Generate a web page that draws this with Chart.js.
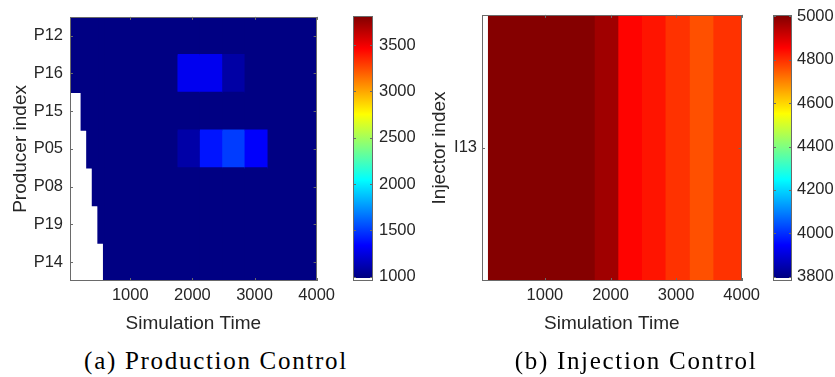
<!DOCTYPE html>
<html>
<head>
<meta charset="utf-8">
<script src="https://cdn.jsdelivr.net/npm/chart.js@4.4.1/dist/chart.umd.min.js"></script>
<style>
  body { margin: 0; background: #fff; width: 835px; height: 377px; position: relative; overflow: hidden; }
  canvas { position: absolute; top: 0; }
  .cap { position: absolute; top: 347px; font-family: "Liberation Serif", "Times New Roman", serif;
         font-size: 25px; letter-spacing: 1.7px; color: #000; white-space: nowrap; transform: translateX(-50%); }
</style>
</head>
<body>
<canvas id="prod" width="340" height="340" style="left:0px"></canvas>
<canvas id="prodBar" width="90" height="300" style="left:340px"></canvas>
<canvas id="inj" width="345" height="340" style="left:420px"></canvas>
<canvas id="injBar" width="70" height="300" style="left:765px"></canvas>
<div class="cap" style="left:216px">(a) Production Control</div>
<div class="cap" style="left:636px">(b) Injection Control</div>
<script>
// producer wells, top to bottom
const producers = ['P12', 'P16', 'P15', 'P05', 'P08', 'P19', 'P14'];
// time boundaries of the control steps
const prodEdges = [30, 120, 210, 300, 390, 480, 570, 1750, 2110, 2470, 2830, 3200, 3560, 4000];
// null = no control yet (white)
const P12 = [965, 965, 965, 965, 965, 965, 965, 965, 965, 965, 965, 965, 965];
const P16 = [965, 965, 965, 965, 965, 965, 965, 1270, 1270, 1060, 965, 965, 965];
const P15 = [null, null, 965, 965, 965, 965, 965, 965, 965, 965, 965, 965, 965];
const P05 = [null, null, null, 965, 965, 965, 965, 1065, 1369, 1481, 1304, 965, 965];
const P08 = [null, null, null, null, 965, 965, 965, 965, 965, 965, 965, 965, 965];
const P19 = [null, null, null, null, null, 965, 965, 965, 965, 965, 965, 965, 965];
const P14 = [null, null, null, null, null, null, 965, 965, 965, 965, 965, 965, 965];
const prodRows = [P12, P16, P15, P05, P08, P19, P14];
const prodRange = [955, 3815];
const prodBarTicks = [1000, 1500, 2000, 2500, 3000, 3500];

const injectors = ['I13'];
const injEdges = [40, 140, 1750, 2110, 2470, 2830, 3200, 3560, 4000];
const I13 = [null, 5000, 4968, 4850, 4829, 4793, 4757, 4793];
const injRows = [I13];
const injRange = [3780, 5007];
const injBarTicks = [3800, 4000, 4200, 4400, 4600, 4800, 5000];

const timeTicks = [1000, 2000, 3000, 4000];

const textColor = '#262626';
const sans = '"Liberation Sans", Arial, sans-serif';
const plain = v => String(v);

function jet(t) {
  t = Math.max(0, Math.min(1, t));
  const c = v => Math.round(255 * Math.max(0, Math.min(1, v)));
  return `rgb(${c(1.5 - Math.abs(4 * t - 3))},${c(1.5 - Math.abs(4 * t - 2))},${c(1.5 - Math.abs(4 * t - 1))})`;
}

function cellSets(edges, rows, range) {
  return edges.slice(0, -1).map((x0, j) => ({
    data: rows.map(r => r[j] == null ? null : [x0, edges[j + 1]]),
    backgroundColor: rows.map(r => r[j] == null ? 'rgba(0,0,0,0)' : jet((r[j] - range[0]) / (range[1] - range[0]))),
    borderWidth: 0,
    inflateAmount: 0.6,
    grouped: false,
    barPercentage: 1,
    categoryPercentage: 1
  }));
}

// box round the plot area with small inward ticks, like matlab
const framePlugin = {
  id: 'frame',
  afterDatasetsDraw(chart) {
    const { ctx, chartArea: a } = chart;
    ctx.save();
    ctx.strokeStyle = '#6a6a6a';
    ctx.lineWidth = 1;
    ctx.beginPath();
    const xs = chart.scales.x, ys = chart.scales.y;
    if (xs.options.display) {
      xs.ticks.forEach((t, i) => {
        const p = Math.round(xs.getPixelForTick(i)) + 0.5;
        ctx.moveTo(p, a.bottom); ctx.lineTo(p, a.bottom - 3);
        ctx.moveTo(p, a.top); ctx.lineTo(p, a.top + 3);
      });
    }
    ys.ticks.forEach((t, i) => {
      const p = Math.round(ys.getPixelForTick(i)) + 0.5;
      ctx.moveTo(a.left, p); ctx.lineTo(a.left + 3, p);
      ctx.moveTo(a.right, p); ctx.lineTo(a.right - 3, p);
    });
    ctx.stroke();
    ctx.strokeRect(Math.round(a.left) + 0.5, Math.round(a.top) + 0.5,
      Math.round(a.right - a.left) - 1, Math.round(a.bottom - a.top) - 1);
    ctx.restore();
  }
};

function heatmap(id, labels, edges, rows, range, yTitle, yWidth, rightPad, titlePad, tickPad) {
  return new Chart(document.getElementById(id), {
    type: 'bar',
    data: { labels: labels, datasets: cellSets(edges, rows, range) },
    options: {
      indexAxis: 'y',
      responsive: false,
      animation: false,
      layout: { padding: { top: 12, right: rightPad, left: 0, bottom: 0 } },
      plugins: { legend: { display: false }, tooltip: { enabled: false } },
      scales: {
        x: {
          type: 'linear', min: edges[0], max: edges[edges.length - 1],
          grid: { display: false, drawTicks: false }, border: { display: false },
          afterBuildTicks: s => { s.ticks = timeTicks.map(v => ({ value: v })); },
          ticks: { font: { family: sans, size: 16.5 }, color: textColor, padding: 5, maxRotation: 0, callback: plain },
          title: { display: true, text: 'Simulation Time', color: textColor,
                   font: { family: sans, size: 19 }, padding: { top: 0, bottom: 5 } },
          afterFit: s => { s.height = 59; }
        },
        y: {
          grid: { display: false, drawTicks: false }, border: { display: false },
          ticks: { font: { family: sans, size: 16.5 }, color: textColor, padding: tickPad },
          title: { display: true, text: yTitle, color: textColor,
                   font: { family: sans, size: 19 }, padding: { top: titlePad, bottom: 0 } },
          afterFit: s => { s.width = yWidth; }
        }
      }
    },
    plugins: [framePlugin]
  });
}

function colorbar(id, range, ticks, leftPad, axisWidth, tickPad) {
  return new Chart(document.getElementById(id), {
    type: 'bar',
    data: {
      labels: [''],
      datasets: [{
        data: [[range[0], range[1]]],
        backgroundColor: c => {
          const a = c.chart.chartArea;
          if (!a) return '#fff';
          const g = c.chart.ctx.createLinearGradient(0, a.bottom, 0, a.top);
          const wf = 0.011;
          g.addColorStop(0, '#fff');
          g.addColorStop(wf, '#fff');
          for (let i = 0; i <= 40; i++) {
            g.addColorStop(wf + (1 - wf) * i / 40, jet(i / 40));
          }
          return g;
        },
        borderWidth: 0,
        barPercentage: 1,
        categoryPercentage: 1
      }]
    },
    options: {
      responsive: false,
      animation: false,
      layout: { padding: { top: 12, bottom: 19, left: leftPad, right: 0 } },
      plugins: { legend: { display: false }, tooltip: { enabled: false } },
      scales: {
        x: { display: false },
        y: {
          position: 'right', min: range[0], max: range[1],
          grid: { display: false, drawTicks: false }, border: { display: false },
          afterBuildTicks: s => { s.ticks = ticks.map(v => ({ value: v })); },
          ticks: { font: { family: sans, size: 16.5 }, color: textColor, padding: tickPad, callback: plain },
          afterFit: s => { s.width = axisWidth; }
        }
      }
    },
    plugins: [framePlugin]
  });
}

heatmap('prod', producers, prodEdges, prodRows, prodRange, 'Producer index', 70, 15, 9, 7);
colorbar('prodBar', prodRange, prodBarTicks, 13, 57, 6);
heatmap('inj', injectors, injEdges, injRows, injRange, 'Injector index', 62, 20, 8, 5);
colorbar('injBar', injRange, injBarTicks, 8, 43, 5);
</script>
</body>
</html>
